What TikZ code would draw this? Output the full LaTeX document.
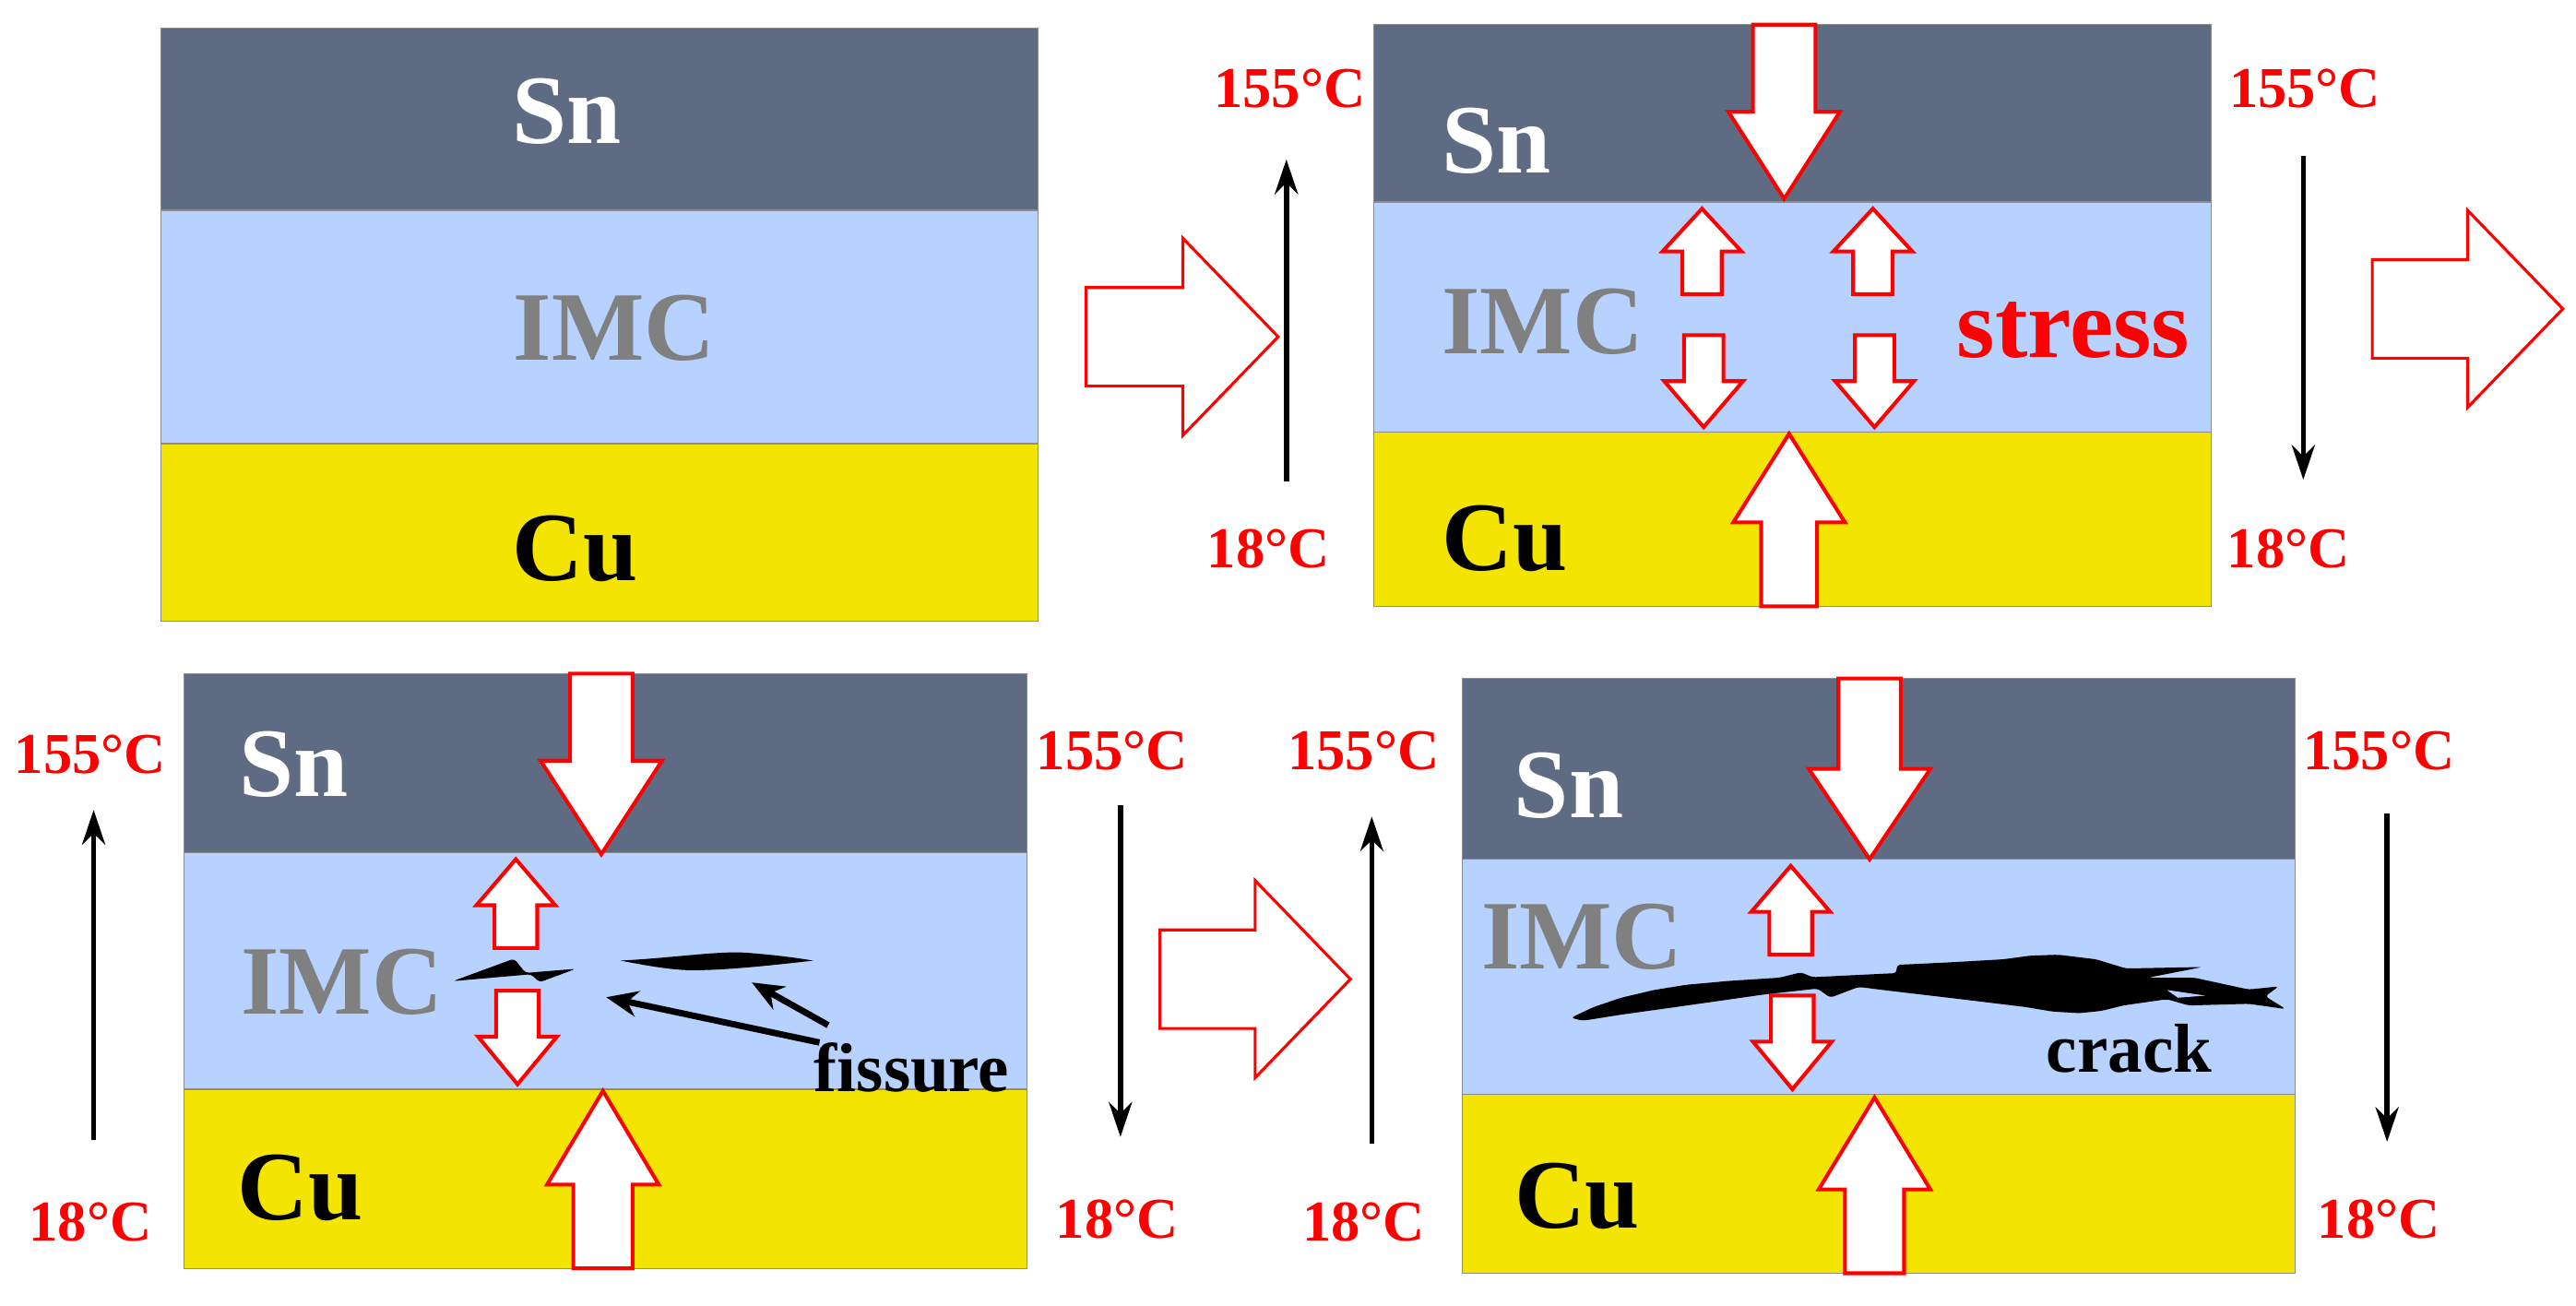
\documentclass[tikz,border=0pt]{standalone}
\usepackage{fontspec}
\setmainfont{Liberation Serif}
\definecolor{snblue}{RGB}{95,107,130}
\definecolor{imcblue}{RGB}{183,210,255}
\definecolor{cuyellow}{RGB}{244,229,0}
\definecolor{edgegray}{RGB}{140,140,140}
\tikzset{
	snlayer/.style={fill=snblue,draw=edgegray,line width=0.4pt},
	imclayer/.style={fill=imcblue,draw=edgegray,line width=0.4pt},
	culayer/.style={fill=cuyellow,draw=edgegray,line width=0.4pt},
	biglabel/.style={inner sep=0pt,font=\fontsize{34}{40}\selectfont\bfseries},
	snlabel/.style={biglabel,text=white},
	imclabel/.style={biglabel,text=gray},
	culabel/.style={biglabel,text=black},
	templabel/.style={inner sep=0pt,text=red,font=\fontsize{20}{24}\selectfont\bfseries},
	notelabel/.style={inner sep=0pt,text=black,font=\fontsize{24}{28}\selectfont\bfseries},
	stressline/.style={draw=red,fill=white,line width=1.3pt},
	processline/.style={draw=red,fill=white,line width=1pt},
	templine/.style={draw=black,line width=1.8pt,-{Stealth[length=12pt,width=8pt]}},
	fissureline/.style={draw=black,line width=2.2pt,-{Stealth[length=11pt,width=9pt]}},
	damage/.style={fill=black,rounded corners=1.2pt},
}
\usetikzlibrary{arrows.meta}
\newcommand{\layers}[6]{
	\draw[snlayer] (#1,#3) rectangle (#2,#4);
	\draw[imclayer] (#1,#4) rectangle (#2,#5);
	\draw[culayer] (#1,#5) rectangle (#2,#6);
}
% x, tail, neck, tip, half shaft, half head
\newcommand{\stressarrow}[6]{
	\draw[stressline] ({#1-#5},#2) -- ({#1+#5},#2) -- ({#1+#5},#3) -- ({#1+#6},#3)
		-- (#1,#4) -- ({#1-#6},#3) -- ({#1-#5},#3) -- cycle;
}
% y, tail, neck, tip
\newcommand{\processarrow}[4]{
	\draw[processline] (#2,{#1-30}) -- (#3,{#1-30}) -- (#3,{#1-60}) -- (#4,#1)
		-- (#3,{#1+60}) -- (#3,{#1+30}) -- (#2,{#1+30}) -- cycle;
}
\begin{document}
\begin{tikzpicture}[x=0.02cm,y=-0.02cm]
		\useasboundingbox (0,0) rectangle (1568,794.4);

		\layers{98}{632}{17}{128}{270}{378}
		\layers{836}{1346}{15}{123}{263}{369}
		\layers{112}{625}{410}{519}{663}{772}
		\layers{890}{1397}{413}{523}{666}{775}

		\draw node(sna)[snlabel,at={(345,68)}]{Sn};
		\draw node(imca)[imclabel,at={(374,200)}]{IMC};
		\draw node(cua)[culabel,at={(350,334)}]{Cu};
		\draw node(snb)[snlabel,at={(911,86)}]{Sn};
		\draw node(imcb)[imclabel,at={(939,196)}]{IMC};
		\draw node(cub)[culabel,at={(916,328)}]{Cu};
		\draw node(snc)[snlabel,at={(179,465)}]{Sn};
		\draw node(imcc)[imclabel,at={(208,598)}]{IMC};
		\draw node(cuc)[culabel,at={(183,723)}]{Cu};
		\draw node(snd)[snlabel,at={(955,478)}]{Sn};
		\draw node(imcd)[imclabel,at={(963,570)}]{IMC};
		\draw node(cud)[culabel,at={(960,728)}]{Cu};

		\draw node(stress)[biglabel,text=red,at={(1262,201)}]{stress};
		\draw node(fissure)[notelabel,at={(555,650)}]{fissure};
		\draw node(crack)[notelabel,at={(1296,638)}]{crack};

		\processarrow{205}{661}{720}{778}
		\processarrow{188}{1444}{1502}{1560}
		\processarrow{596}{706}{764}{822}

		\stressarrow{1086}{15}{68}{121}{19}{34}
		\stressarrow{1089}{369}{318}{264}{17}{34}
		\stressarrow{1036}{179}{153}{127}{12}{24}
		\stressarrow{1140}{179}{153}{127}{12}{24}
		\stressarrow{1037}{204}{232}{260}{12}{24}
		\stressarrow{1141}{204}{232}{260}{12}{24}

		\stressarrow{366}{410}{463}{520}{19}{37}
		\stressarrow{367}{772}{721}{664}{18}{34}
		\stressarrow{314}{577}{551}{523}{13}{24}
		\stressarrow{315}{603}{631}{660}{13}{24}

		\stressarrow{1138}{413}{468}{523}{19}{37}
		\stressarrow{1141}{775}{724}{668}{18}{34}
		\stressarrow{1090}{581}{555}{527}{13}{24}
		\stressarrow{1091}{606}{634}{663}{13}{24}

		\foreach \tname/\tx/\ty/\ttext in {
			hotb/785/54/155°C,coldb/772/334/18°C,
			hotc/1403/54/155°C,coldc/1393/334/18°C,
			hotd/55/459/155°C,coldd/55/744/18°C,
			hote/677/457/155°C,colde/680/742/18°C,
			hotf/830/457/155°C,coldf/830/744/18°C,
			hotg/1448/457/155°C,coldg/1448/742/18°C}
			\draw node(\tname)[templabel,at={(\tx,\ty)}]{\ttext};

		\foreach \sname/\sx/\sy/\ex/\ey in {
			riseb/783/293/783/97,
			fallc/1402/95/1402/292,
			rised/57/694/57/493,
			falle/682/490/682/692,
			risef/835/696/835/497,
			fallg/1453/495/1453/695}{
			\coordinate (\sname s) at (\sx,\sy);
			\coordinate (\sname e) at (\ex,\ey);
			\draw[templine] (\sname s) -- (\sname e);
		}

		\fill[damage] (275.6,597.2) -- (313,583.5) -- (319.9,592.2) -- (350.5,589.7)
			-- (328.4,597.9) -- (323.3,593) -- cycle;
		\fill[black] (377.7,584.7) .. controls (410,583) and (435,579) .. (452.5,579.8)
			.. controls (470,581) and (485,583) .. (495,584.7)
			.. controls (475,587) and (440,591) .. (418.5,590.5)
			.. controls (405,590) and (390,587) .. (377.7,584.7) -- cycle;
		\coordinate (fissuretipa) at (369,607);
		\coordinate (fissuretipb) at (457.6,598);
		\draw[fissureline] ([xshift=2pt]fissure.north west) -- (fissuretipa);
		\draw[fissureline] ([xshift=5pt,yshift=6pt]fissure.north west) -- (fissuretipb);

		\fill[damage] (956.2,619.5) -- (970.2,612.9) -- (986.8,607.3) -- (1006.7,602.6)
			-- (1026.6,599.4) -- (1053.2,597) -- (1083.1,595.1)
			-- (1096.4,591.8) -- (1103,594.8) -- (1154.5,592.3) -- (1154.5,587.3)
			-- (1186.1,585.8) -- (1219.3,583.9) -- (1235.9,581.7) -- (1252.6,581.1)
			-- (1275.8,583.9) -- (1294.1,589.5)
			-- (1340.6,588.6) -- (1307.4,595.1) -- (1335.6,595.1) -- (1368.8,602.3)
			-- (1387.1,600.4) -- (1378.8,606.4) -- (1391.4,614.2) -- (1368.8,611)
			-- (1332.3,612) -- (1319,608.2) -- (1292.4,612) -- (1279.1,615.3)
			-- (1265.8,616.7) -- (1249.2,615.7)
			-- (1232.6,612.9) -- (1186.1,607.3) -- (1146.2,602.6) -- (1131.3,600.7)
			-- (1114,607.3) -- (1106.4,601.7) -- (1073.1,605.4) -- (1046.6,609.2)
			-- (1013.3,613.9) -- (986.8,617.6) -- (963.5,621.3) -- cycle;
		\fill[imcblue] (1319,602.6) -- (1342.3,606) -- (1325.7,607.3) -- cycle;
\end{tikzpicture}
\end{document}
